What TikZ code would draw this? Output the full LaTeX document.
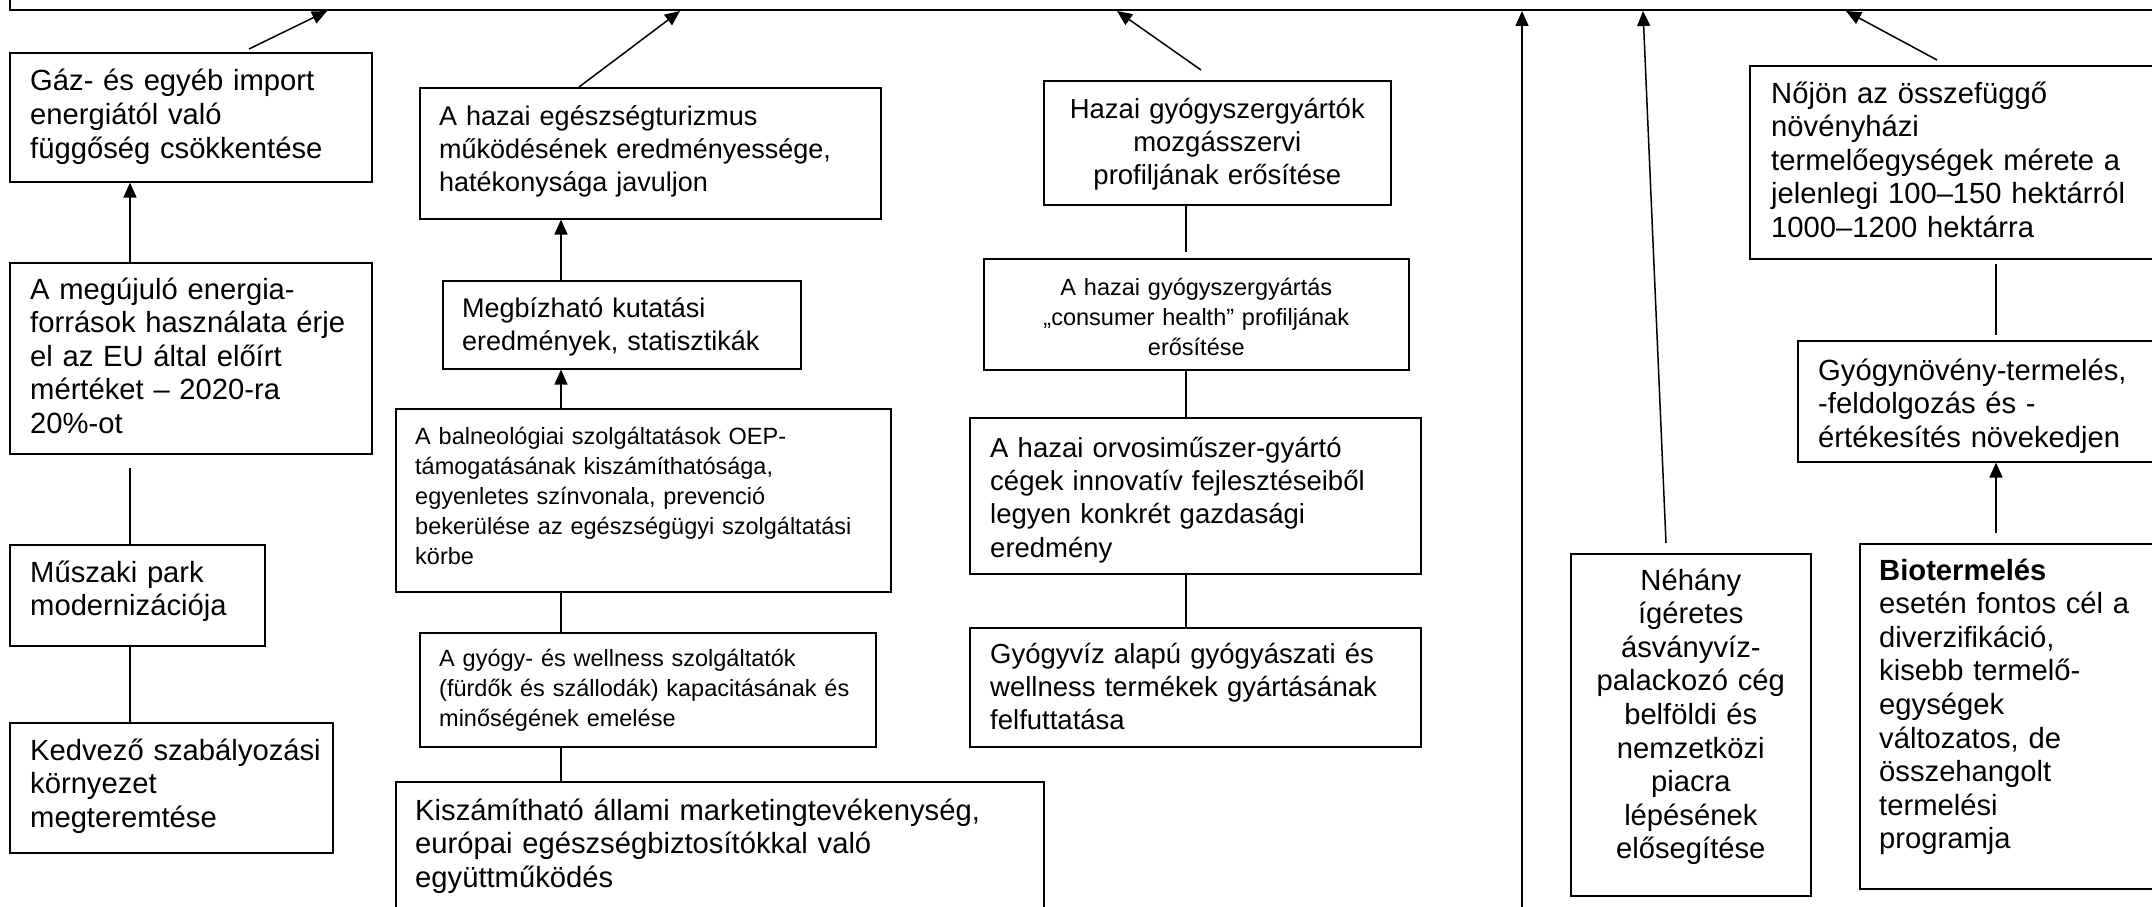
\documentclass[tikz,border=0pt]{standalone}
\usepackage{fontspec}
\setmainfont[Ligatures={NoCommon}]{Liberation Sans}
\usetikzlibrary{calc,arrows.meta}
\tikzset{
  bxs/.style={draw, line width=1.6pt, inner sep=0pt, anchor=north west},
  tx/.style={inner sep=0pt, text width=1000pt, align=left, anchor=base west},
  fA/.style={font=\fontsize{29.2}{33.6}\selectfont},
  fB/.style={font=\fontsize{27.5}{33.4}\selectfont},
  fC/.style={font=\fontsize{27}{33}\selectfont},
  fD/.style={font=\fontsize{23.5}{30}\selectfont},
  ln/.style={line width=1.5pt},
  arr/.style={line width=1.5pt, -{Triangle[length=15pt,width=13pt]}},
}
\newcommand\mkbox[5]{\node[bxs, minimum width={#4-#2}, minimum height={#5-#3}] (#1) at (#2,#3) {};}
\begin{document}
\begin{tikzpicture}[x=1pt,y=-1pt]
\useasboundingbox (0,0) rectangle (2152,907);
\fill[white] (0,0) rectangle (2152,907);
\clip (0,0) rectangle (2152,907);
% top box
\node[draw, line width=1.6pt, inner sep=0pt, anchor=south west, minimum width=2250, minimum height=60] (top) at (9,11) {};
\coordinate (t1) at (327,11);
\coordinate (t2) at (680,11);
\coordinate (t3) at (1117,11);
\coordinate (t4) at (1522,11);
\coordinate (t5) at (1643,11);
\coordinate (t6) at (1846,11);
% boxes
\mkbox{gaz}{9}{52}{371}{181}
\mkbox{megu}{9}{262}{371}{453}
\mkbox{musz}{9}{544}{264}{645}
\mkbox{kedv}{9}{722}{332}{852}
\mkbox{hazai}{419}{87}{880}{218}
\mkbox{megb}{442}{280}{800}{368}
\mkbox{balneo}{395}{408}{890}{591}
\mkbox{gyogy}{419}{632}{875}{746}
\mkbox{kisz}{395}{781}{1043}{960}
\mkbox{hgy}{1043}{80}{1390}{204}
\mkbox{cons}{983}{258}{1408}{369}
\mkbox{orv}{969}{417}{1420}{573}
\mkbox{gyviz}{969}{627}{1420}{746}
\mkbox{noj}{1749}{65}{2220}{258}
\mkbox{gyn}{1797}{340}{2220}{461}
\mkbox{neh}{1570}{553}{1810}{895}
\mkbox{bio}{1859}{543}{2220}{888}
% texts
\node[tx,fA] (gaz-t) at ($(gaz.north west)+(21,39)$) {Gáz- és egyéb import\\energiától való\\függőség csökkentése};
\node[tx,fA] (megu-t) at ($(megu.north west)+(21,37)$) {A megújuló energia-\\források használata érje\\el az EU által előírt\\mértéket – 2020-ra\\20\%-ot};
\node[tx,fA] (musz-t) at ($(musz.north west)+(21,38)$) {Műszaki park\\modernizációja};
\node[tx,fA] (kedv-t) at ($(kedv.north west)+(21,38)$) {Kedvező szabályozási\\környezet\\megteremtése};
\node[tx,fC] (hazai-t) at ($(hazai.north west)+(20,38)$) {A hazai egészségturizmus\\működésének eredményessége,\\hatékonysága javuljon};
\node[tx,fC] (megb-t) at ($(megb.north west)+(20,37)$) {Megbízható kutatási\\eredmények, statisztikák};
\node[tx,fD] (balneo-t) at ($(balneo.north west)+(20,36)$) {A balneológiai szolgáltatások OEP-\\támogatásának kiszámíthatósága,\\egyenletes színvonala, prevenció\\bekerülése az egészségügyi szolgáltatási\\körbe};
\node[tx,fD] (gyogy-t) at ($(gyogy.north west)+(20,34)$) {A gyógy- és wellness szolgáltatók\\(fürdők és szállodák) kapacitásának és\\minőségének emelése};
\node[tx,fA] (kisz-t) at ($(kisz.north west)+(20,39)$) {Kiszámítható állami marketingtevékenység,\\európai egészségbiztosítókkal való\\együttműködés};
\node[tx,fB, text width=330pt, align=center, anchor=base] (hgy-t) at ($(hgy.north)+(0,38)$) {Hazai gyógyszergyártók\\mozgásszervi\\profiljának erősítése};
\node[tx,fD, text width=400pt, align=center, anchor=base] (cons-t) at ($(cons.north)+(0,37)$) {A hazai gyógyszergyártás\\„consumer health” profiljának\\erősítése};
\node[tx,fB] (orv-t) at ($(orv.north west)+(21,40)$) {A hazai orvosiműszer-gyártó\\cégek innovatív fejlesztéseiből\\legyen konkrét gazdasági\\eredmény};
\node[tx,fB] (gyviz-t) at ($(gyviz.north west)+(21,36)$) {Gyógyvíz alapú gyógyászati és\\wellness termékek gyártásának\\felfuttatása};
\node[tx,fA] (noj-t) at ($(noj.north west)+(22,38)$) {Nőjön az összefüggő\\növényházi\\termelőegységek mérete a\\jelenlegi 100–150 hektárról\\1000–1200 hektárra};
\node[tx,fA] (gyn-t) at ($(gyn.north west)+(21,40)$) {Gyógynövény-termelés,\\-feldolgozás és -\\értékesítés növekedjen};
\node[tx,fA, text width=230pt, align=center, anchor=base] (neh-t) at ($(neh.north)+(0,37)$) {Néhány\\ígéretes\\ásványvíz-\\palackozó cég\\belföldi és\\nemzetközi\\piacra\\lépésének\\elősegítése};
\node[tx,fA] (bio-t) at ($(bio.north west)+(20,37)$) {\textbf{Biotermelés}\\esetén fontos cél a\\diverzifikáció,\\kisebb termelő-\\egységek\\változatos, de\\összehangolt\\termelési\\programja};
% x positions of vertical connectors
\coordinate (xa) at (130,0);
\coordinate (xb) at (561,0);
\coordinate (xc) at (1186,0);
\coordinate (xd) at (1996,0);
\coordinate (vb) at (1522,930);
% connectors to the top box
\draw[arr] ($(gaz.north west)+(240,-3)$) -- (t1);
\draw[arr] ($(hazai.north west)+(160,0)$) -- (t2);
\draw[arr] ($(hgy.north west)+(158,-10)$) -- (t3);
\draw[arr] (vb) -- (t4);
\draw[arr] ($(neh.north west)+(96,-10)$) -- (t5);
\draw[arr] ($(noj.north west)+(188,-5)$) -- (t6);
% column 1
\draw[arr] (megu.north -| xa) -- (gaz.south -| xa);
\draw[ln, shorten <=13pt] (megu.south -| xa) -- (musz.north -| xa);
\draw[ln] (musz.south -| xa) -- (kedv.north -| xa);
% column 2
\draw[arr] (megb.north -| xb) -- (hazai.south -| xb);
\draw[arr] (balneo.north -| xb) -- (megb.south -| xb);
\draw[ln] (balneo.south -| xb) -- (gyogy.north -| xb);
\draw[ln] (gyogy.south -| xb) -- (kisz.north -| xb);
% column 3
\draw[ln, shorten >=6pt] (hgy.south -| xc) -- (cons.north -| xc);
\draw[ln] (cons.south -| xc) -- (orv.north -| xc);
\draw[ln] (orv.south -| xc) -- (gyviz.north -| xc);
% column 5
\draw[ln, shorten <=4pt, shorten >=5pt] (noj.south -| xd) -- (gyn.north -| xd);
\draw[arr, shorten <=10pt] (bio.north -| xd) -- (gyn.south -| xd);
\end{tikzpicture}
\end{document}
